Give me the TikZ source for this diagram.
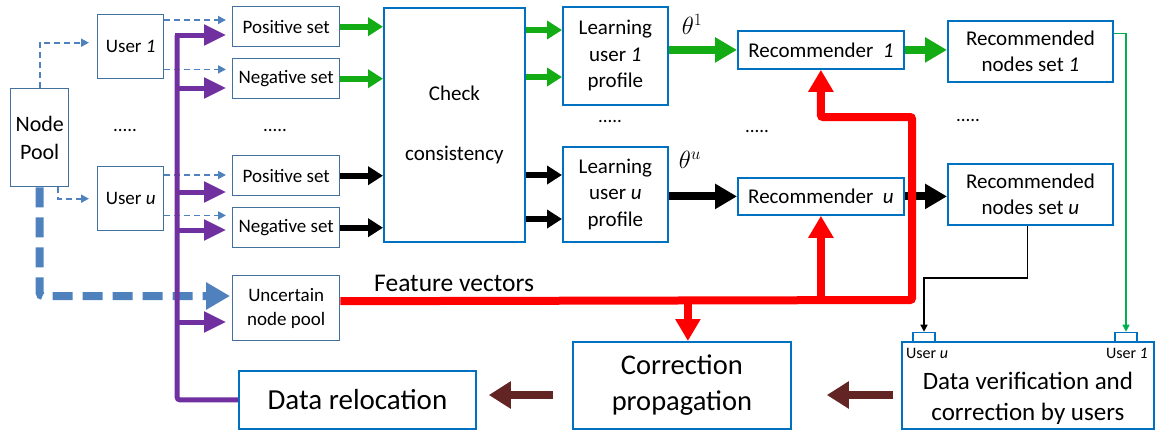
\documentclass[tikz,border=0pt]{standalone}
\usepackage{fontspec}
\setmainfont{Carlito}
\usetikzlibrary{arrows.meta,calc}
\definecolor{dkblue}{RGB}{65,113,156}
\definecolor{brblue}{RGB}{0,112,192}
\definecolor{dgreen}{RGB}{20,172,20}
\definecolor{lgreen}{RGB}{0,176,80}
\definecolor{purp}{RGB}{112,48,160}
\definecolor{dashblue}{RGB}{79,129,189}
\definecolor{brn}{RGB}{99,37,35}
\newcommand{\fsz}[2]{\fontsize{#1}{#2}\selectfont}
\begin{document}
\begin{tikzpicture}[x=1pt,y=-1pt,
  lbox/.style={draw=dkblue,line width=1.4pt,inner sep=1pt,align=center,anchor=north west,font=\fsz{19}{22}},
  rbox/.style={draw=brblue,line width=1.8pt,inner sep=1pt,align=center,anchor=north west,font=\fsz{21}{26.5}},
  thindash/.style={draw=dashblue,line width=1.8pt,dash pattern=on 6pt off 4pt,-{Triangle[length=8pt,width=8pt]}},
  thickdash/.style={draw=dashblue,line width=8pt,dash pattern=on 20pt off 10pt,-{Triangle[length=24pt,width=26pt]}},
  purpA/.style={draw=purp,line width=5pt,-{Triangle[length=22pt,width=20pt]}},
  gA/.style={draw=dgreen,line width=6pt,-{Triangle[length=15pt,width=18pt]}},
  bA/.style={draw=black,line width=6pt,-{Triangle[length=15pt,width=18pt]}},
  gB/.style={draw=dgreen,line width=8pt,-{Triangle[length=22pt,width=24pt]}},
  bB/.style={draw=black,line width=8pt,-{Triangle[length=22pt,width=24pt]}},
  redA/.style={draw=red,line width=8pt,-{Triangle[length=22pt,width=24pt]}},
  brA/.style={draw=brn,line width=8pt,-{Triangle[length=22pt,width=26pt]}},
  dots/.style={font=\fsz{19}{22}},
  port/.style={draw=brblue,line width=1.6pt,minimum width=22pt,minimum height=9pt,inner sep=0pt}
]
\useasboundingbox (0,0) rectangle (1155,432);
% nodes
\node[lbox,minimum width=58pt,minimum height=98pt,font=\fsz{22}{28}] (np) at (10,88) {Node\\Pool};
\node[lbox,minimum width=66pt,minimum height=64pt] (u1) at (97,14) {User \textit{1}};
\node[lbox,minimum width=66pt,minimum height=64pt] (uu) at (97,166) {User \textit{u}};
\node[lbox,minimum width=107pt,minimum height=40pt] (p1) at (232,6) {Positive set};
\node[lbox,minimum width=107pt,minimum height=40pt] (n1) at (232,58) {Negative set};
\node[lbox,minimum width=107pt,minimum height=40pt] (pu) at (232,155) {Positive set};
\node[lbox,minimum width=107pt,minimum height=40pt] (nu) at (232,207) {Negative set};
\node[lbox,minimum width=107pt,minimum height=65pt,font=\fsz{19}{24}] (unc) at (232,275) {Uncertain\\node pool};
\node[rbox,minimum width=141pt,minimum height=234pt] (cc) at (383,7) {Check\\[33pt]consistency};
\node[rbox,minimum width=105pt,minimum height=98pt] (l1) at (562,6) {Learning\\user \textit{1}\\profile};
\node[rbox,minimum width=105pt,minimum height=95pt] (lu) at (562,146) {Learning\\user \textit{u}\\profile};
\node[rbox,minimum width=166pt,minimum height=38pt] (r1) at (737,30) {Recommender~~\textit{1}};
\node[rbox,minimum width=166pt,minimum height=37pt] (ru) at (737,177) {Recommender~~\textit{u}};
\node[rbox,minimum width=165pt,minimum height=61pt] (rn1) at (947,20) {Recommended\\nodes set \textit{1}};
\node[rbox,minimum width=165pt,minimum height=61pt] (rnu) at (947,163) {Recommended\\nodes set \textit{u}};
\node[rbox,minimum width=252pt,minimum height=87pt] (dv) at (901,341) {};
\node[font=\fsz{25}{31.5},align=center,inner sep=0pt] (dvt) at ($(dv.center)+(0,13)$) {Data verification and\\correction by users};
\node[rbox,minimum width=218pt,minimum height=87pt,font=\fsz{28.5}{36}] (cp) at (572,341) {Correction\\propagation};
\node[rbox,minimum width=237pt,minimum height=58pt,font=\fsz{29}{34}] (dr) at (238,370) {Data relocation};
\node[port] (pou) at (924,337) {};
\node[port] (po1) at (1126,337) {};
\node[font=\fsz{16}{18},anchor=west,inner sep=0pt] (lu1) at (906,353) {User \textit{u}};
\node[font=\fsz{16}{18},anchor=east,inner sep=0pt] (lu2) at (1148,353) {User \textit{1}};
\node[dots] (d1) at (125,130) {.....};
\node[dots] (d2) at (275,130) {.....};
\node[dots] (d3) at (610,121) {.....};
\node[dots] (d4) at (757,131) {.....};
\node[dots] (d5) at (968,120) {.....};
\node[font=\fsz{26}{30}] (t1) at (692,24) {$\theta^1$};
\node[font=\fsz{26}{30}] (tu) at (690,160) {$\theta^u$};
\node[font=\fsz{25.5}{30},anchor=west,inner sep=0pt] (fv) at (374,283) {Feature vectors};
% thin dashed from node pool / users
\draw[thindash,shorten >=8pt] (np.north) |- ([yshift=4pt]u1.west);
\draw[thindash,shorten >=8pt] ([xshift=18pt]np.south) |- (uu.west);
\coordinate (a1) at ([yshift=-6pt]u1.north east);
\coordinate (a2) at ([yshift=10pt]u1.south east);
\coordinate (a3) at ([yshift=-9pt]uu.north east);
\coordinate (a4) at ([yshift=16pt]uu.south east);
\draw[thindash,shorten >=6pt] (a1) -- (a1 -| p1.west);
\draw[thindash,shorten >=6pt] (a2) -- (a2 -| n1.west);
\draw[thindash,shorten >=6pt] (a3) -- (a3 -| pu.west);
\draw[thindash,shorten >=6pt] (a4) -- (a4 -| nu.west);
% thick dashed to uncertain
\coordinate (tk) at (0,296);
\draw[thickdash,rounded corners=3pt,shorten >=2pt] (np.south) |- (tk -| unc.west);
% purple
\coordinate (pv) at (177,35);
\draw[draw=purp,line width=5pt,rounded corners=3pt] (dr.west) -| (pv);
\draw[purpA,shorten >=6pt] ([xshift=-2.5pt]pv) -- (pv -| p1.west);
\foreach \yy/\tg in {88/n1,192/pu,230/nu,322/unc}{
  \coordinate (pb) at (177,\yy);
  \draw[purpA,shorten >=6pt] (pb) -- (pb -| \tg.west);
}
% sets to check
\draw[gA] (p1.east) -- (p1.east -| cc.west);
\draw[gA] (n1.east) -- (n1.east -| cc.west);
\draw[bA] (pu.east) -- (pu.east -| cc.west);
\draw[bA] (nu.east) -- (nu.east -| cc.west);
% check to learning
\coordinate (c1) at (0,30);
\coordinate (c2) at (0,77);
\coordinate (c3) at (0,175);
\coordinate (c4) at (0,219);
\draw[gA] (c1 -| cc.east) -- (c1 -| l1.west);
\draw[gA] (c2 -| cc.east) -- (c2 -| l1.west);
\draw[bA] (c3 -| cc.east) -- (c3 -| lu.west);
\draw[bA] (c4 -| cc.east) -- (c4 -| lu.west);
% learning to recommender
\draw[gB] (l1.east |- r1.west) -- (r1.west);
\draw[bB] (lu.east |- ru.west) -- (ru.west);
\draw[gB] (r1.east) -- (r1.east -| rn1.west);
\draw[bB] (ru.east) -- (ru.east -| rnu.west);
% red
\coordinate (f0) at ([yshift=7pt]unc.east);
\coordinate (rc) at (912,300);
\coordinate (rt) at (912,117);
\coordinate (rx) at (r1.south |- rt);
\draw[redA,rounded corners=2pt] (f0) -- (rc) -- (rt) -- (rx) -- (r1.south);
\draw[redA] (ru.south |- f0) -- (ru.south);
\draw[redA] ([xshift=6pt]cp.north |- f0) -- ([xshift=6pt]cp.north);
% thin connectors to ports
\draw[draw=lgreen,line width=1.5pt,-{Triangle[length=7pt,width=7pt]}] ([yshift=18pt]rn1.east) -| (po1.north);
\coordinate (bk) at (0,278);
\draw[draw=black,line width=1.5pt,-{Triangle[length=7pt,width=7pt]}] ([xshift=-3pt]rnu.south) |- (bk -| pou.north) -- (pou.north);
% brown
\coordinate (br) at (0,395);
\draw[brA,shorten <=8pt,shorten >=35pt] (br -| dv.west) -- (br -| cp.east);
\draw[brA,shorten <=19pt,shorten >=12pt] (br -| cp.west) -- (br -| dr.east);
\end{tikzpicture}
\end{document}
